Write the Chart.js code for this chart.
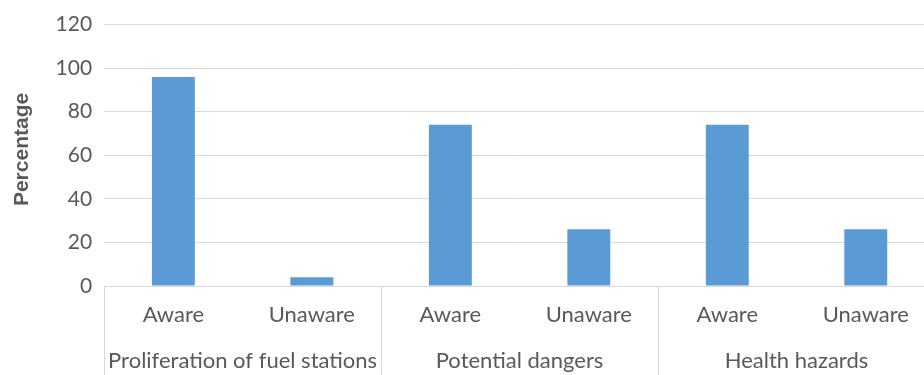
<!DOCTYPE html>
<html>
<head>
<meta charset="utf-8">
<script src="https://cdn.jsdelivr.net/npm/chart.js@4.4.1/dist/chart.umd.min.js"></script>
<style>
  html, body { margin: 0; padding: 0; background: #ffffff; overflow: hidden; }
  #wrap { position: relative; width: 936px; height: 375px; }
</style>
</head>
<body>
<div id="wrap"><canvas id="chart"></canvas></div>
<script>
// Awareness survey: share of respondents per topic
const categories = ['Aware', 'Unaware', 'Aware', 'Unaware', 'Aware', 'Unaware'];
const groups = ['Proliferation of fuel stations', 'Potential dangers', 'Health hazards'];
const percentages = [96, 4, 74, 26, 74, 26];
const yTicks = [0, 20, 40, 60, 80, 100, 120];

const textColor = '#595959';
const lineColor = '#d9d9d9';

// Vertical separators between the groups of the two-level category axis
const groupSeparators = {
  id: 'groupSeparators',
  afterDraw(chart) {
    const x = chart.scales.x;
    const ctx = chart.ctx;
    const n = categories.length;
    const per = n / groups.length;
    const xs = [];
    for (let g = 0; g <= groups.length; g++) {
      const i = g * per;
      let px;
      if (i === 0) px = x.left;
      else if (i === n) px = x.right;
      else px = (x.getPixelForValue(i - 1) + x.getPixelForValue(i)) / 2;
      xs.push(Math.round(px) + 0.5);
    }
    ctx.save();
    ctx.strokeStyle = lineColor;
    ctx.lineWidth = 1;
    xs.forEach(px => {
      ctx.beginPath();
      ctx.moveTo(px, chart.chartArea.bottom);
      ctx.lineTo(px, chart.height);
      ctx.stroke();
    });
    ctx.restore();
  }
};

new Chart(document.getElementById('chart'), {
  type: 'bar',
  data: {
    labels: categories,
    datasets: [{
      data: percentages,
      backgroundColor: '#5b9bd5',
      borderWidth: 0,
      barPercentage: 0.31,
      categoryPercentage: 1.0
    }]
  },
  options: {
    responsive: true,
    maintainAspectRatio: false,
    animation: false,
    layout: { padding: { top: 10, right: 1, left: 10, bottom: 0 } },
    plugins: { legend: { display: false }, tooltip: { enabled: false } },
    scales: {
      x: {
        grid: { display: false, drawTicks: false },
        border: { display: true, color: lineColor },
        ticks: {
          color: textColor,
          font: { family: 'Lato', size: 22 },
          padding: 16,
          maxRotation: 0,
          autoSkip: false
        },
        afterFit(scale) { scale.height = 42; }
      },
      x2: {
        type: 'category',
        labels: groups,
        position: 'bottom',
        offset: true,
        grid: { display: false, drawTicks: false },
        border: { display: false },
        ticks: {
          color: textColor,
          font: { family: 'Lato', size: 22 },
          padding: 20,
          maxRotation: 0,
          autoSkip: false
        },
        afterFit(scale) { scale.height = 47; }
      },
      y: {
        min: 0,
        max: 120,
        afterBuildTicks(scale) { scale.ticks = yTicks.map(v => ({ value: v })); },
        grid: { color: lineColor, drawTicks: false },
        border: { display: false },
        ticks: {
          color: textColor,
          font: { family: 'Lato', size: 21 },
          padding: 12
        },
        title: {
          display: true,
          text: '\u00a0\u00a0Percentage',
          color: textColor,
          font: { family: 'Liberation Sans', size: 21, weight: 'bold' },
          padding: { top: 0, bottom: 8.4 }
        }
      }
    }
  },
  plugins: [groupSeparators]
});
</script>
</body>
</html>
